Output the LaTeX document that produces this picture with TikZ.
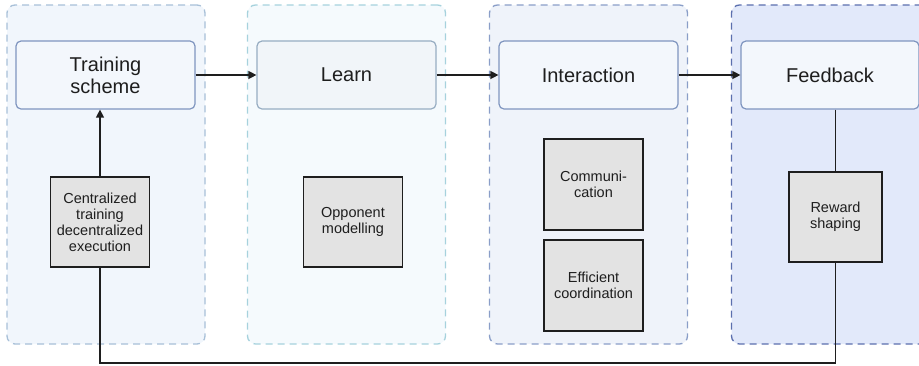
\documentclass[tikz,border=0pt]{standalone}
\usepackage{fontspec}
\setmainfont{Liberation Sans}
\usetikzlibrary{arrows.meta}

\definecolor{edgeA}{HTML}{A8C0D8}
\definecolor{fillA}{HTML}{F1F6FC}
\definecolor{edgeB}{HTML}{A6D2DD}
\definecolor{fillB}{HTML}{F5FAFD}
\definecolor{edgeC}{HTML}{8A9EC8}
\definecolor{fillC}{HTML}{EFF3FA}
\definecolor{edgeD}{HTML}{5B6FAE}
\definecolor{fillD}{HTML}{E2E9FA}
\definecolor{stageedge}{HTML}{7F95BF}
\definecolor{stagefill}{HTML}{F3F7FC}
\definecolor{topicfill}{HTML}{E3E3E3}
\definecolor{inkgray}{HTML}{1E1E1E}

\tikzset{
  panel/.style={draw, rounded corners=8pt, line width=1.3pt, dash pattern=on 7pt off 5pt,
    minimum width=198pt, minimum height=339pt, inner sep=0pt},
  stage/.style={draw=stageedge, fill=stagefill, rounded corners=5pt, line width=1.2pt,
    minimum width=179pt, minimum height=68pt, align=center,
    font=\fontsize{20}{22}\selectfont, text=inkgray},
  topic/.style={draw=inkgray, fill=topicfill, line width=1.4pt, minimum width=99pt,
    minimum height=90pt, inner sep=2pt, align=center,
    font=\fontsize{14.5}{16}\selectfont, text=inkgray},
  link/.style={line width=1.3pt, draw=inkgray},
  arr/.style={link, -{Triangle[length=8pt,width=8pt]}}
}

\begin{document}
\begin{tikzpicture}[x=1pt,y=-1pt]
\useasboundingbox (0,0) rectangle (919,365);
% background panels
\node[panel, draw=edgeA, fill=fillA] (trainpanel) at (106,174.5) {};
\node[panel, draw=edgeB, fill=fillB] (learnpanel) at (346.5,174.5) {};
\node[panel, draw=edgeC, fill=fillC] (interpanel) at (588.5,174.5) {};
\node[panel, draw=edgeD, fill=fillD] (feedpanel) at (830.5,174.5) {};
% stages
\node[stage] (scheme) at (105.5,75) {Training\\scheme};
\node[stage, draw=edgeA!90!black, fill=fillA!70!edgeA!40] (learn) at (346.5,75) {Learn};
\node[stage] (interaction) at (588.5,75) {Interaction};
\node[stage, minimum width=178pt] (feedback) at (830,75) {Feedback};
% topics
\node[topic] (ctde) at (100,222) {Centralized\\training\\decentralized\\execution};
\node[topic] (opponent) at (353,222) {Opponent\\modelling};
\node[topic, minimum height=91pt] (comm) at (593.5,184.5) {Communi-\\cation};
\node[topic, minimum height=91pt] (coord) at (593.5,285.5) {Efficient\\coordination};
\node[topic, minimum width=93pt] (reward) at (835.5,217) {Reward\\shaping};
\coordinate (loopleft) at (ctde.south |- 0,363);
\coordinate (loopright) at (reward.south |- 0,363);
% connectors
\draw[arr] (scheme.east) -- (learn.west);
\draw[arr] (learn.east) -- (interaction.west);
\draw[arr] (interaction.east) -- (feedback.west);
\draw[arr] (ctde.north) -- (ctde.north |- scheme.south);
\draw[link] (reward.north |- feedback.south) -- (reward.north);
\draw[link] (ctde.south) -- (loopleft) -- (loopright) -- (reward.south);
\end{tikzpicture}
\end{document}
